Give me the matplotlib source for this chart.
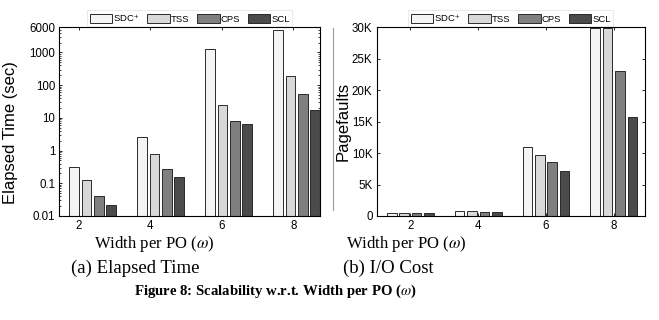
import numpy as np
import matplotlib
matplotlib.use("Agg")
import matplotlib.pyplot as plt
from matplotlib.lines import Line2D
from matplotlib.ticker import FixedLocator, LogLocator, NullFormatter

plt.rcParams['font.family'] = ['Liberation Sans', 'DejaVu Sans']
plt.rcParams['mathtext.fontset'] = 'stix'

widths = ['2', '4', '6', '8']
methods = ['SDC$^{+}$', 'TSS', 'CPS', 'SCL']
colors = ['#f4f4f4', '#d8d8d8', '#7f7f7f', '#4b4b4b']

# elapsed time (sec), log scale
time_sdc = [0.32, 2.6, 1250, 4800]
time_tss = [0.125, 0.80, 25, 187]
time_cps = [0.041, 0.27, 7.9, 53]
time_scl = [0.021, 0.152, 6.4, 17]

# pagefaults
pf_sdc = [550, 800, 11000, 29800]
pf_tss = [550, 750, 9750, 29800]
pf_cps = [500, 700, 8650, 23000]
pf_scl = [450, 650, 7150, 15650]

time_yticks = [0.01, 0.1, 1, 10, 100, 1000, 6000]
time_ylabels = ['0.01', '0.1', '1', '10', '100', '1000', '6000']
pf_yticks = [0, 5000, 10000, 15000, 20000, 25000, 30000]
pf_ylabels = ['0', '5K', '10K', '15K', '20K', '25K', '30K']

BAR_W = 0.142
PITCH = 0.183
TICK_FS = 8.3


def style_axes(ax):
    for s in ax.spines.values():
        s.set_linewidth(0.8)
    ax.tick_params(direction='in', top=True, right=True, labelsize=TICK_FS,
                   length=2.5, width=0.6, pad=3)
    ax.tick_params(which='minor', direction='in', top=False, right=True,
                   length=1.5, width=0.5)


def draw_bars(ax, series):
    x = np.arange(len(widths))
    for i, (vals, c, name) in enumerate(zip(series, colors, methods)):
        ax.bar(x + (i - 1.5) * PITCH, vals, BAR_W, color=c, edgecolor='#2a2a2a',
               linewidth=0.7, label=name, zorder=2)
    leg = ax.legend(loc='lower center', bbox_to_anchor=(0.5, 1.0), ncol=4,
                    fontsize=6.8, handlelength=2.4, handleheight=1.05,
                    handletextpad=0.1, columnspacing=0.8, borderpad=0.25,
                    borderaxespad=0.1, fancybox=False, framealpha=1)
    leg.get_frame().set_edgecolor('#e2e2e2')
    leg.get_frame().set_linewidth(0.5)


fig = plt.figure(figsize=(6.59, 3.2), dpi=100)

# (a) elapsed time
ax1 = fig.add_axes([0.090, 0.325, 0.3956, 0.5906])
draw_bars(ax1, [time_sdc, time_tss, time_cps, time_scl])
ax1.set_yscale('log')
ax1.set_ylim(0.01, 6000)
ax1.yaxis.set_major_locator(FixedLocator(time_yticks))
ax1.set_yticklabels(time_ylabels)
ax1.yaxis.set_minor_locator(LogLocator(base=10, subs=np.arange(2, 10)))
ax1.yaxis.set_minor_formatter(NullFormatter())
ax1.set_xlim(-0.49, 3.344)
ax1.set_xticks(np.arange(len(widths)) * 1.053 - 0.206)
ax1.set_xticklabels(widths)
ax1.set_ylabel('Elapsed Time (sec)', fontsize=12, labelpad=2)
ax1.yaxis.set_label_coords(-0.16, 0.44)
style_axes(ax1)

# (b) I/O cost
ax2 = fig.add_axes([0.5716, 0.325, 0.4072, 0.5906])
draw_bars(ax2, [pf_sdc, pf_tss, pf_cps, pf_scl])
ax2.set_ylim(0, 30000)
ax2.set_yticks(pf_yticks)
ax2.set_yticklabels(pf_ylabels)
ax2.set_xlim(-0.496, 3.46)
ax2.set_xticks(np.arange(len(widths)))
ax2.set_xticklabels(widths)
ax2.set_ylabel('Pagefaults', fontsize=12, labelpad=1)
style_axes(ax2)

# stray rule left of panel (b)
fig.add_artist(Line2D([333 / 659, 333 / 659], [1 - 28 / 320, 1 - 210 / 320],
                      color='#9a9a9a', lw=0.8))

serif = ['Liberation Serif', 'DejaVu Serif']
fig.text(0.2334, 0.2375, r'Width per PO ($\omega$)', ha='center', va='center',
         fontsize=12, family=serif)
fig.text(0.616, 0.2375, r'Width per PO ($\omega$)', ha='center', va='center',
         fontsize=12, family=serif)
fig.text(0.2056, 0.1625, '(a) Elapsed Time', ha='center', va='center',
         fontsize=13.5, family=serif)
fig.text(0.590, 0.1625, '(b) I/O Cost', ha='center', va='center',
         fontsize=13.5, family=serif)
fig.text(0.418, 0.0884, r'Figure 8: Scalability w.r.t. Width per PO ($\omega$)',
         ha='center', va='center', fontsize=10.6, family=serif, weight='bold')

fig.savefig('out.png', dpi=100)
